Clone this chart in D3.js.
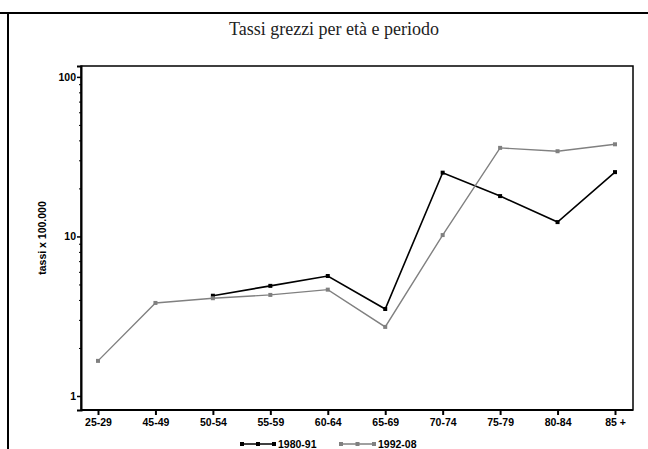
<!DOCTYPE html>
<html>
<head>
<meta charset="utf-8">
<script src="https://cdnjs.cloudflare.com/ajax/libs/d3/7.8.5/d3.min.js"></script>
<style>
  html, body { margin: 0; padding: 0; background: #fff; }
  svg { display: block; }
</style>
</head>
<body>
<svg id="chart" width="648" height="449"></svg>
<script>
// Age groups on the x axis
const categories = ["25-29", "45-49", "50-54", "55-59", "60-64", "65-69", "70-74", "75-79", "80-84", "85 +"];

// Crude rates per 100,000 by period (null = no value for that age group)
const rates1980 = [null, null, 4.25, 4.9, 5.65, 3.51, 25.1, 17.9, 12.3, 25.3];
const rates1992 = [1.66, 3.83, 4.1, 4.3, 4.64, 2.71, 10.2, 35.9, 34.2, 37.8];

const seriesNames = ["1980-91", "1992-08"];
const seriesColors = ["#000000", "#808080"];

const yTickValues = [1, 10, 100];
const yMinorValues = [2, 3, 4, 5, 6, 7, 8, 9, 20, 30, 40, 50, 60, 70, 80, 90];

const title = "Tassi grezzi per età e periodo";
const yTitle = "tassi x 100.000";

const svg = d3.select("#chart");

// Outer page frame lines
svg.append("line").attr("x1", 0).attr("x2", 648).attr("y1", 13).attr("y2", 13)
  .attr("stroke", "#000").attr("stroke-width", 2);
svg.append("line").attr("x1", 8).attr("x2", 8).attr("y1", 13).attr("y2", 449)
  .attr("stroke", "#000").attr("stroke-width", 2);

// Title
svg.append("text")
  .attr("x", 334).attr("y", 35)
  .attr("text-anchor", "middle")
  .attr("font-family", "'Liberation Serif', 'DejaVu Serif', serif")
  .attr("font-size", 18)
  .attr("fill", "#222")
  .text(title);

// Plot area
const plot = { left: 81, right: 633, top: 66, bottom: 410 };

const x = d3.scalePoint().domain(categories).range([98, 615]);
const y = d3.scaleLog().domain([0.817, 117]).range([plot.bottom, plot.top]);

// Frame
svg.append("rect")
  .attr("x", plot.left).attr("y", plot.top)
  .attr("width", plot.right - plot.left).attr("height", plot.bottom - plot.top)
  .attr("fill", "none").attr("stroke", "#000").attr("stroke-width", 1.5);

const axisFont = "'Liberation Sans', Arial, sans-serif";

// Y axis (major)
const yAxis = svg.append("g")
  .attr("transform", `translate(${plot.left},0)`)
  .call(d3.axisLeft(y).tickValues(yTickValues).tickFormat(d3.format("d")).tickSize(4).tickPadding(1));
yAxis.select(".domain").attr("stroke-width", 2);
yAxis.selectAll(".tick line").attr("stroke-width", 1.5);
yAxis.selectAll("text")
  .attr("font-family", axisFont).attr("font-weight", "bold").attr("font-size", 10.5).attr("fill", "#000");

// Y axis (minor)
svg.append("g")
  .attr("transform", `translate(${plot.left},0)`)
  .call(d3.axisLeft(y).tickValues(yMinorValues).tickFormat("").tickSize(2))
  .select(".domain").remove();

// X axis
const xAxis = svg.append("g")
  .attr("transform", `translate(0,${plot.bottom})`)
  .call(d3.axisBottom(x).tickSize(5).tickPadding(4).tickSizeOuter(0));
xAxis.select(".domain").attr("d", `M${plot.left},0H${plot.right}`).attr("stroke-width", 2);
xAxis.selectAll(".tick line").attr("stroke-width", 2);
xAxis.selectAll("text")
  .attr("font-family", axisFont).attr("font-weight", "bold").attr("font-size", 10.5).attr("fill", "#000");

// Y title
svg.append("text")
  .attr("transform", "translate(46,238) rotate(-90)")
  .attr("text-anchor", "middle")
  .attr("font-family", axisFont).attr("font-weight", "bold").attr("font-size", 10.5)
  .text(yTitle);

// Series lines and markers
const series = [rates1980, rates1992];
const line = d3.line()
  .defined(d => d.v != null)
  .x(d => x(d.c))
  .y(d => y(d.v));

series.forEach((vals, i) => {
  const pts = categories.map((c, j) => ({ c, v: vals[j] }));
  svg.append("path")
    .datum(pts)
    .attr("d", line)
    .attr("fill", "none")
    .attr("stroke", seriesColors[i])
    .attr("stroke-width", i === 0 ? 1.6 : 1.4);
  svg.append("g").selectAll("rect")
    .data(pts.filter(d => d.v != null))
    .join("rect")
    .attr("x", d => x(d.c) - 2)
    .attr("y", d => y(d.v) - 2)
    .attr("width", 4).attr("height", 4)
    .attr("fill", seriesColors[i]);
});

// Legend
const legend = svg.append("g");
const legendItems = [{ x0: 240, x1: 276, tx: 278 }, { x0: 339, x1: 376, tx: 378 }];
legendItems.forEach((it, i) => {
  legend.append("line")
    .attr("x1", it.x0).attr("x2", it.x1).attr("y1", 444).attr("y2", 444)
    .attr("stroke", seriesColors[i]).attr("stroke-width", 1.6);
  [it.x0 + 2, (it.x0 + it.x1) / 2, it.x1 - 2].forEach(px => {
    legend.append("rect")
      .attr("x", px - 2).attr("y", 442).attr("width", 4).attr("height", 4)
      .attr("fill", seriesColors[i]);
  });
  legend.append("text")
    .attr("x", it.tx).attr("y", 448)
    .attr("font-family", axisFont).attr("font-weight", "bold").attr("font-size", 10.5)
    .attr("fill", "#000")
    .text(seriesNames[i]);
});
</script>
</body>
</html>
